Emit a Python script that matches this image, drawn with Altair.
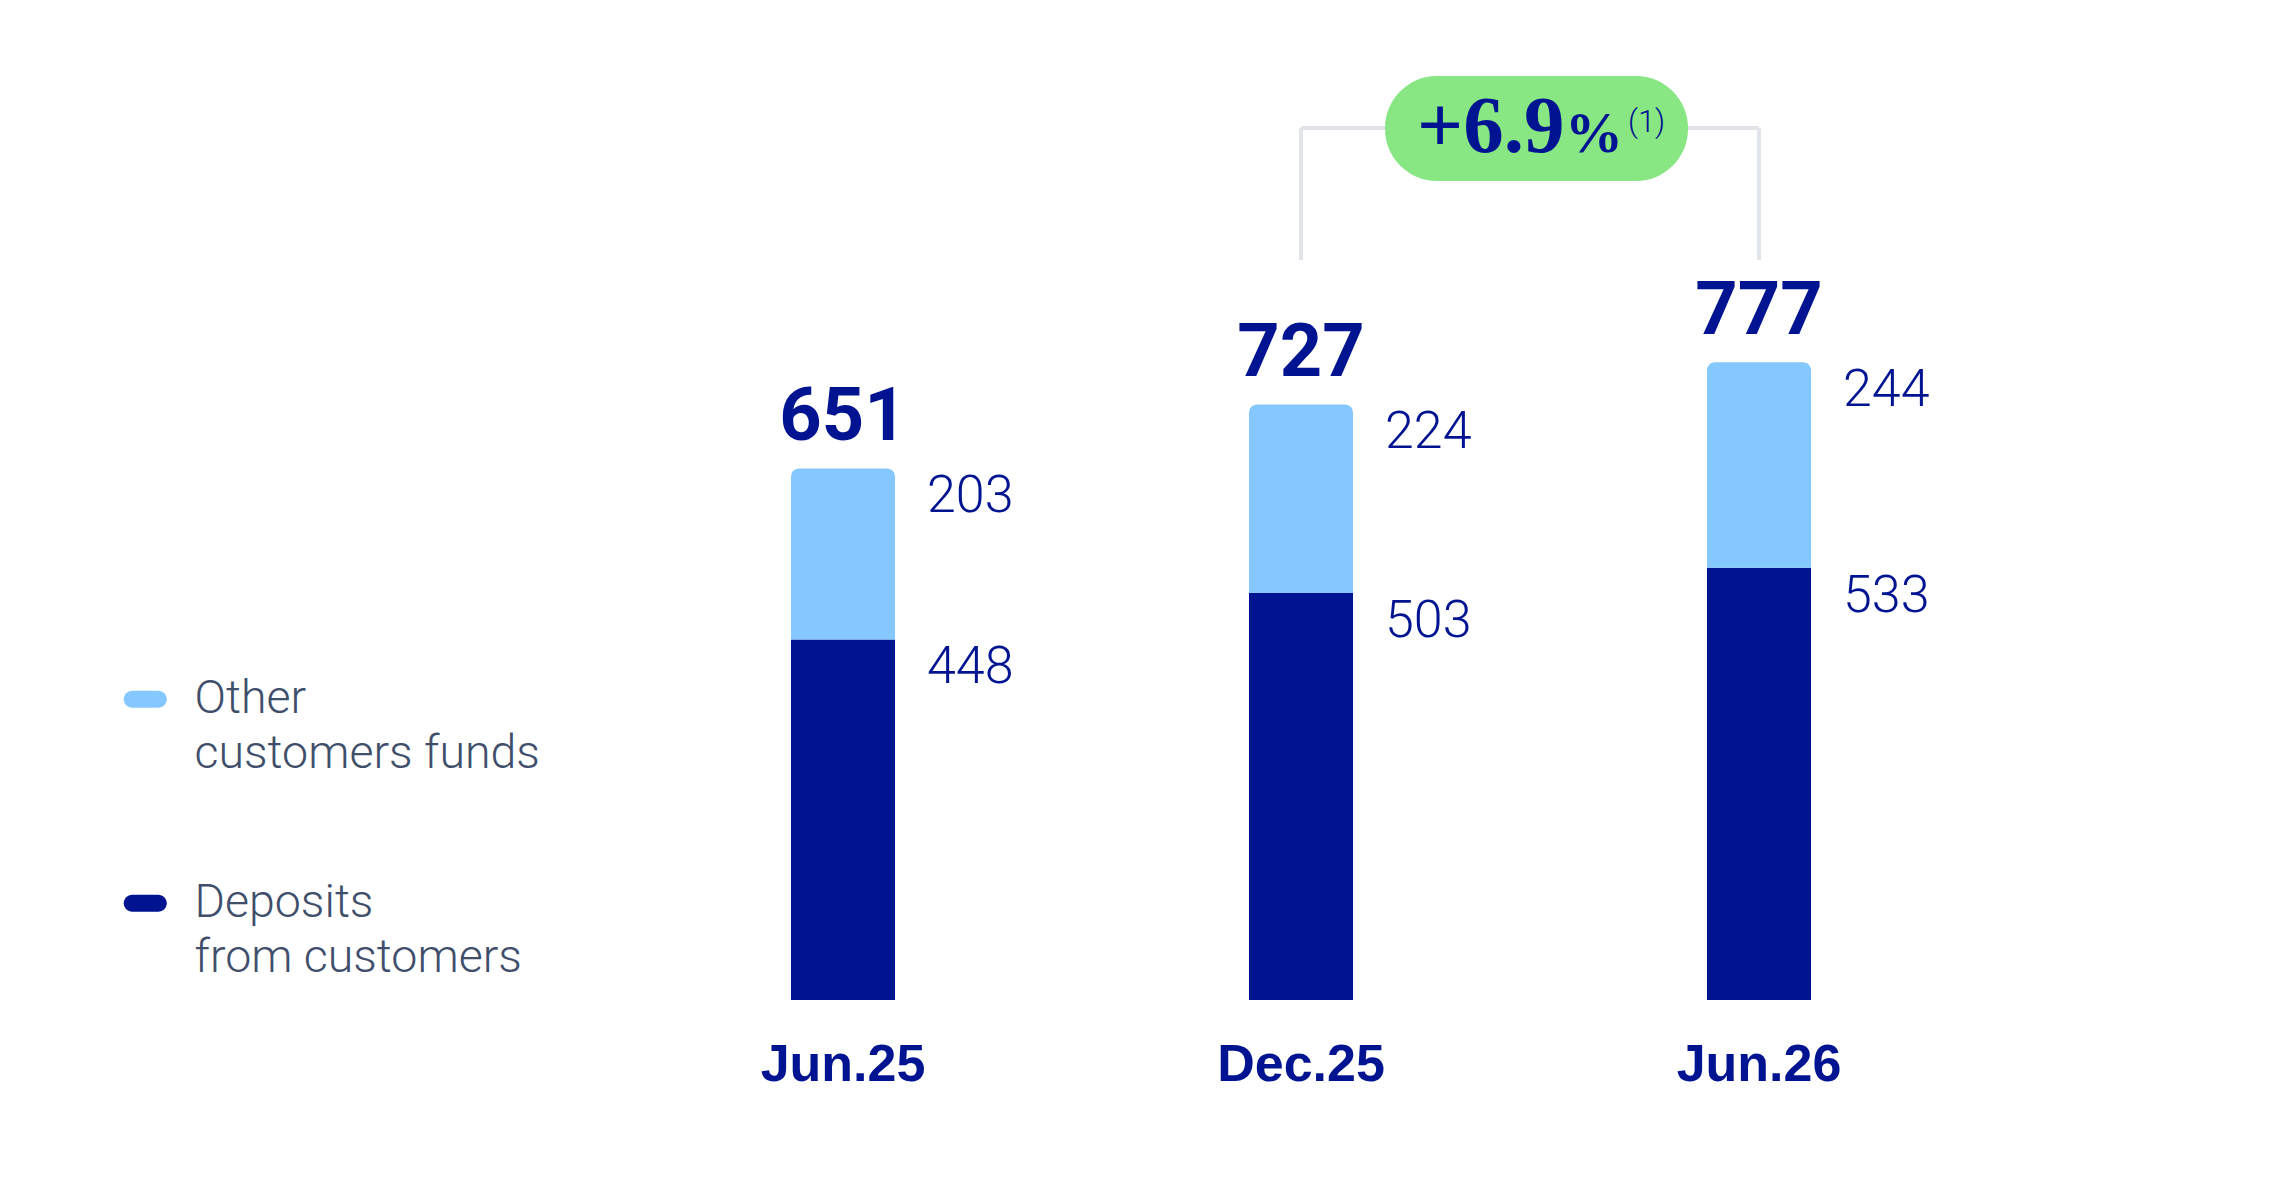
import altair as alt
import pandas as pd

# ---- data ----
periods = ["Jun.25", "Dec.25", "Jun.26"]
deposits = [448, 503, 533]
other_funds = [203, 224, 244]
totals = [651, 727, 777]
series_names = ["Other customers funds", "Deposits from customers"]
series_colors = ["#85C8FF", "#001391"]

NAVY = "#001391"
GREEN = "#88E783"
BRACKET = "#E1E5EA"
LEGEND_TXT = "#3F4F6B"

rows = []
for p, d, o in zip(periods, deposits, other_funds):
    rows.append(dict(period=p, series=series_names[1], start=0, end=d, value=d))
    rows.append(dict(period=p, series=series_names[0], start=d, end=d + o, value=o))
seg = pd.DataFrame(rows)
tot = pd.DataFrame(dict(period=periods, total=totals))

growth = (totals[2] / totals[1] - 1) * 100
gdf = pd.DataFrame({"period": [periods[1]], "period_end": [periods[2]],
                    "pct": [f"+{growth:.1f}"], "sym": ["%"], "note": ["(1)"]})
bdf = pd.DataFrame({"period": periods[1:]})

PILL = ("M -0.605 -0.395 L 0.605 -0.395 A 0.395 0.395 0 0 1 0.605 0.395 "
        "L -0.605 0.395 A 0.395 0.395 0 0 1 -0.605 -0.395 Z")

x_enc = alt.X("period:N", sort=periods,
              scale=alt.Scale(domain=periods, range=[614, 1988], paddingInner=0, paddingOuter=0),
              axis=alt.Axis(title=None, labelAngle=0, domain=False, ticks=False, grid=False,
                            labelFont="Liberation Sans", labelFontWeight="bold", labelFontSize=52,
                            labelColor=NAVY, labelPadding=39))
y_scale = alt.Scale(domain=[20, 1207], nice=False, zero=False, clamp=True)

color_enc = alt.Color("series:N",
                      scale=alt.Scale(domain=series_names, range=series_colors),
                      legend=alt.Legend(title=None, orient="none", legendX=122, legendY=676,
                                        direction="vertical", symbolType=PILL, symbolSize=1849,
                                        symbolStrokeWidth=0, labelFont="Roboto", labelFontWeight=300,
                                        labelFontSize=46.5, labelColor=LEGEND_TXT, labelOffset=26,
                                        rowPadding=102, labelLimit=800, padding=0,
                                        labelExpr="[slice(datum.label, 0, indexof(datum.label, ' ')), slice(datum.label, indexof(datum.label, ' ') + 1)]"))

dep_bars = alt.Chart(seg).transform_filter(alt.datum.series == series_names[1]).mark_bar(width=104).encode(
    x=x_enc, y=alt.Y("end:Q", scale=y_scale, axis=None), y2="start:Q", color=color_enc)
oth_bars = alt.Chart(seg).transform_filter(alt.datum.series == series_names[0]).mark_bar(
    width=104, cornerRadiusTopLeft=8, cornerRadiusTopRight=8).encode(
    x=x_enc, y=alt.Y("end:Q", scale=y_scale, axis=None), y2="start:Q", color=color_enc)

seg_labels = alt.Chart(seg).mark_text(font="Roboto", fontWeight=300, fontSize=52, color=NAVY,
                                      align="left", baseline="alphabetic", dx=84, dy=44).encode(
    x=x_enc, y=alt.Y("end:Q", scale=y_scale, axis=None), text="value:Q")

tot_labels = alt.Chart(tot).mark_text(font="Roboto", fontWeight="bold",
                                      fontSize=74, color=NAVY, align="center",
                                      baseline="alphabetic", dy=-28).encode(
    x=x_enc, y=alt.Y("total:Q", scale=y_scale, axis=None), text="total:Q")

br_vert = alt.Chart(bdf).mark_rule(color=BRACKET, strokeWidth=4).encode(
    x=x_enc, y=alt.value(128), y2=alt.value(260))
br_horiz = alt.Chart(gdf).mark_rule(color=BRACKET, strokeWidth=4).encode(
    x=x_enc, x2="period_end:N", y=alt.value(128))

pill = alt.Chart(gdf).mark_rect(color=GREEN, cornerRadius=52).encode(
    x=alt.value(1385), x2=alt.value(1688), y=alt.value(76), y2=alt.value(181))
pct_txt = alt.Chart(gdf).mark_text(font="Liberation Serif", fontWeight="bold", fontSize=81, color=NAVY,
                                   align="left", baseline="alphabetic").encode(
    x=alt.value(1417), y=alt.value(152), text="pct:N")
sym_txt = alt.Chart(gdf).mark_text(font="Liberation Serif", fontWeight="bold", fontSize=58, color=NAVY,
                                   align="left", baseline="alphabetic").encode(
    x=alt.value(1565), y=alt.value(152), text="sym:N")
note_txt = alt.Chart(gdf).mark_text(font="Roboto", fontWeight=300, fontSize=31, color=NAVY,
                                    align="left", baseline="alphabetic").encode(
    x=alt.value(1628), y=alt.value(132), text="note:N")

chart = alt.layer(dep_bars, oth_bars, seg_labels, tot_labels, br_vert, br_horiz, pill,
                  pct_txt, sym_txt, note_txt).properties(
    width=2292, height=1000,
    padding={"left": 0, "top": 0, "right": 0, "bottom": 188},
    autosize=alt.AutoSizeParams(type="none"),
    background="white",
).configure(
    style={"guide-label": {"lineHeight": 55}},
    view=alt.ViewConfig(stroke=None),
)

chart.save("out.html", embed_options={"renderer": "svg", "actions": False})
